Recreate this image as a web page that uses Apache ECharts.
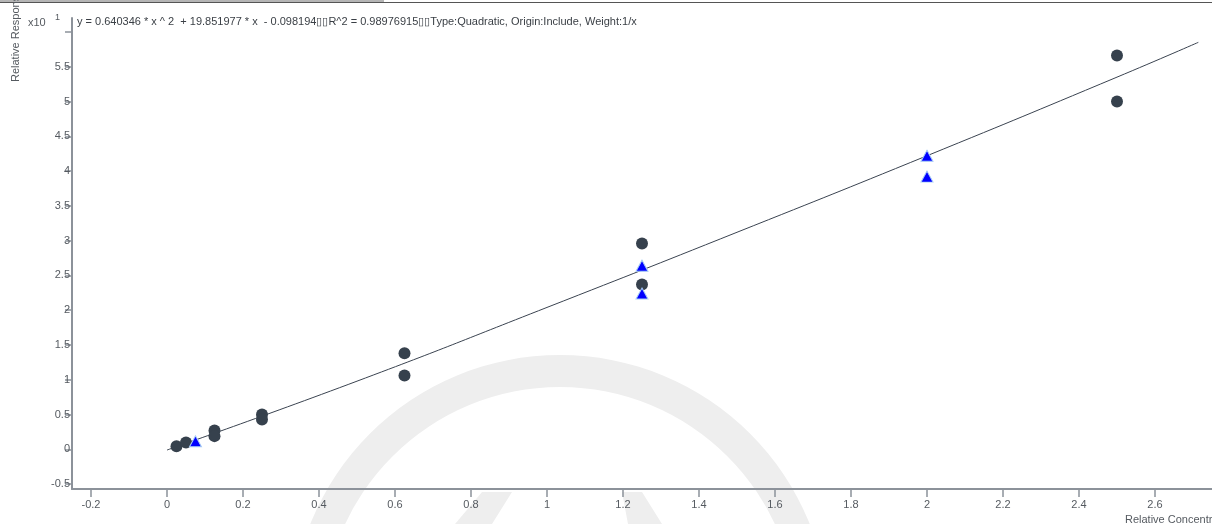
<!DOCTYPE html>
<html>
<head>
<meta charset="utf-8">
<script src="https://cdn.jsdelivr.net/npm/echarts@6/dist/echarts.min.js"></script>
<style>
  html, body { margin: 0; padding: 0; background: #fff; }
  #chart { width: 1212px; height: 524px; }
</style>
</head>
<body>
<div id="chart"></div>
<script>
// калибраторы (круги)
const circlePoints = [
  [0.025, 0.043], [0.05, 0.10],
  [0.125, 0.27], [0.125, 0.19],
  [0.25, 0.50], [0.25, 0.43],
  [0.625, 1.38], [0.625, 1.06],
  [1.25, 2.96], [1.25, 2.37],
  [2.5, 5.66], [2.5, 5.00]
];

// контроли (треугольники)
const trianglePoints = [
  [0.075, 0.115],
  [1.25, 2.64], [1.25, 2.24],
  [2.0, 4.22], [2.0, 3.92]
];

// линия калибровки
const fitLine = [
  [0, -0.01], [0.5, 0.98], [1.0, 2.04], [1.5, 3.12],
  [2.0, 4.22], [2.5, 5.35], [2.714, 5.85]
];

const xTicks = [-0.2, 0, 0.2, 0.4, 0.6, 0.8, 1, 1.2, 1.4, 1.6, 1.8, 2, 2.2, 2.4, 2.6];
const yLabels = [-0.5, 0, 0.5, 1, 1.5, 2, 2.5, 3, 3.5, 4, 4.5, 5, 5.5];
const yTicks = [-0.5, 0, 0.5, 1, 1.5, 2, 2.5, 3, 3.5, 4, 4.5, 5, 5.5, 6];

const equationText = 'y = 0.640346 * x ^ 2  + 19.851977 * x  - 0.098194\u25AF\u25AFR^2 = 0.98976915\u25AF\u25AFType:Quadratic, Origin:Include, Weight:1/x';

const FONT = 'Liberation Sans, Arial, sans-serif';
const AXIS_COLOR = '#8c929a';
const LABEL_COLOR = '#555a60';
const WM = '#eeeeee';

const chart = echarts.init(document.getElementById('chart'));

const option = {
  animation: false,
  textStyle: { fontFamily: FONT },
  title: {
    text: equationText,
    left: 72,
    top: 11,
    textStyle: { fontSize: 11, fontWeight: 'normal', color: '#3a3f45', fontFamily: FONT }
  },
  graphic: [
    // водяной знак
    { type: 'ring', z: -10, silent: true, shape: { cx: 560, cy: 624, r: 269, r0: 237 }, style: { fill: WM } },
    { type: 'polygon', z: -10, silent: true, shape: { points: [[482, 492], [512, 492], [492, 524], [455, 524]] }, style: { fill: WM } },
    { type: 'polygon', z: -10, silent: true, shape: { points: [[622, 492], [642, 492], [662, 524], [628, 524]] }, style: { fill: WM } },
    // рамка сверху
    { type: 'rect', shape: { x: 0, y: 0, width: 384, height: 2 }, style: { fill: '#b5b5b5' } },
    { type: 'rect', shape: { x: 0, y: 2, width: 1212, height: 1 }, style: { fill: '#555' } },
    // подписи осей
    {
      type: 'text', x: 16, y: 82, rotation: Math.PI / 2,
      style: { text: 'Relative Response', fill: LABEL_COLOR, font: '11px ' + FONT, align: 'left', verticalAlign: 'middle' }
    },
    {
      type: 'text', x: 1125, y: 520,
      style: { text: 'Relative Concentration', fill: LABEL_COLOR, font: '11px ' + FONT, align: 'left', verticalAlign: 'middle' }
    },
    { type: 'text', x: 28, y: 23, style: { text: 'x10', fill: LABEL_COLOR, font: '11px ' + FONT, verticalAlign: 'middle' } },
    { type: 'text', x: 55, y: 18, style: { text: '1', fill: LABEL_COLOR, font: '9px ' + FONT, verticalAlign: 'middle' } }
  ],
  grid: { left: 72, top: 18, width: 1140, bottom: 35, outerBoundsMode: 'none', containLabel: false },
  xAxis: {
    type: 'value',
    min: -0.25,
    max: 2.75,
    axisLine: { onZero: false, lineStyle: { color: AXIS_COLOR, width: 2 } },
    axisTick: { show: true, length: 8, customValues: xTicks, lineStyle: { color: AXIS_COLOR, width: 1.5 } },
    axisLabel: { customValues: xTicks, margin: 10, fontSize: 11, color: LABEL_COLOR },
    splitLine: { show: false }
  },
  yAxis: {
    type: 'value',
    min: -0.57,
    max: 6.2,
    axisLine: { show: true, onZero: false, lineStyle: { color: AXIS_COLOR, width: 2 } },
    axisTick: { show: true, length: 7, customValues: yTicks, lineStyle: { color: AXIS_COLOR, width: 1.5 } },
    axisLabel: { customValues: yLabels, margin: 2, fontSize: 11, color: LABEL_COLOR },
    splitLine: { show: false }
  },
  series: [
    {
      name: 'Fit',
      type: 'line',
      data: fitLine,
      smooth: true,
      showSymbol: false,
      lineStyle: { color: '#3a4350', width: 1 },
      z: 1
    },
    {
      name: 'Calibrators',
      type: 'scatter',
      data: circlePoints,
      symbol: 'circle',
      symbolSize: 12,
      itemStyle: { color: '#36414d', opacity: 1 },
      z: 3
    },
    {
      name: 'QC',
      type: 'scatter',
      data: trianglePoints,
      symbol: 'triangle',
      symbolSize: [12, 11],
      itemStyle: { color: '#0000ff', borderColor: '#a9cdf5', borderWidth: 1, opacity: 1 },
      z: 4
    }
  ]
};

chart.setOption(option);
</script>
</body>
</html>
